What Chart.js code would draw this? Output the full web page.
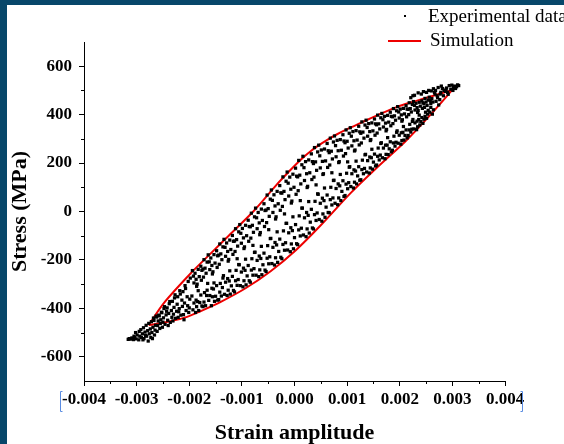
<!DOCTYPE html>
<html>
<head>
<meta charset="utf-8">
<script src="https://cdn.jsdelivr.net/npm/chart.js@4.4.1/dist/chart.umd.min.js"></script>
<style>
  html, body { margin: 0; padding: 0; background: #07476a; }
  .frame {
    position: absolute; left: 0; top: 0;
    width: 557px; height: 439px;
    border-left: 7px solid #07476a; border-top: 5px solid #07476a;
    background: #fff;
  }
  canvas { display: block; }
</style>
</head>
<body>
<div class="frame"><canvas id="loop" width="557" height="439"></canvas></div>
<script>
// hysteresis loop: strain in units of 1e-3, stress in MPa

const xTickValues = [-0.004, -0.003, -0.002, -0.001, 0, 0.001, 0.002, 0.003, 0.004];
const xMinorValues = [-0.0035, -0.0025, -0.0015, -0.0005, 0.0005, 0.0015, 0.0025, 0.0035];
const yTickValues = [-600, -400, -200, 0, 200, 400, 600];
const yMinorValues = [-500, -300, -100, 100, 300, 500];

const expStrain = [
  -3.16, -3.14, -3.11, -3.09, -3.06, -3.04, -3.05,
  -3.01, -2.99, -3.02, -2.96, -2.94, -2.95,
  -2.91, -2.89, -2.92, -2.88, -2.86, -2.84, -2.87, -2.83,
  -2.81, -2.79, -2.82, -2.78, -2.76, -2.74, -2.77, -2.73,
  -2.71, -2.69, -2.72, -2.68, -2.70, -2.66, -2.64, -2.67, -2.63, -2.65,
  -2.61, -2.59, -2.62, -2.58, -2.60, -2.56, -2.54, -2.57, -2.53, -2.55,
  -2.51, -2.49, -2.52, -2.48, -2.50, -2.46, -2.44, -2.47, -2.43,
  -2.41, -2.39, -2.42, -2.38, -2.40, -2.36, -2.34, -2.37, -2.33,
  -2.31, -2.29, -2.32, -2.28, -2.30, -2.26, -2.24, -2.27, -2.23,
  -2.21, -2.19, -2.22, -2.18, -2.20, -2.16, -2.14, -2.17, -2.13,
  -2.11, -2.09, -2.12, -2.08, -2.10, -2.06, -2.04, -2.07, -2.03,
  -2.01, -1.99, -2.02, -1.98, -2.00,
  -1.94, -1.89, -1.92, -1.87, -1.91, -1.86, -1.88, -1.93, -1.86, -1.91, -1.87, -1.95,
  -1.78, -1.83, -1.76, -1.81, -1.77, -1.85, -1.82, -1.76, -1.80, -1.84, -1.78, -1.83,
  -1.72, -1.66, -1.70, -1.74, -1.68, -1.73, -1.74, -1.69, -1.72, -1.67, -1.71, -1.66,
  -1.64, -1.59, -1.62, -1.57, -1.61, -1.56, -1.58, -1.63, -1.56, -1.61, -1.57, -1.65,
  -1.48, -1.53, -1.46, -1.51, -1.47, -1.55, -1.52, -1.46, -1.50, -1.54, -1.48, -1.53,
  -1.42, -1.36, -1.40, -1.44, -1.38, -1.43, -1.44, -1.39, -1.42, -1.37, -1.41, -1.36,
  -1.34, -1.29, -1.32, -1.27, -1.31, -1.26, -1.28, -1.33, -1.26, -1.31, -1.27, -1.35,
  -1.18, -1.23, -1.16, -1.21, -1.17, -1.25, -1.22, -1.16, -1.20, -1.24, -1.18, -1.23,
  -1.12, -1.06, -1.10, -1.14, -1.08, -1.13, -1.14, -1.09, -1.12, -1.07, -1.11, -1.06, -1.09,
  -1.04, -0.99, -1.02, -0.97, -1.01, -0.96, -0.98, -1.03, -0.96, -1.01, -0.97, -1.05,
  -0.88, -0.93, -0.86, -0.91, -0.87, -0.95, -0.92, -0.86, -0.90, -0.94, -0.88, -0.93,
  -0.82, -0.76, -0.80, -0.84, -0.78, -0.83, -0.84, -0.79, -0.82, -0.77, -0.81, -0.76, -0.79,
  -0.74, -0.69, -0.72, -0.67, -0.71, -0.66, -0.68, -0.73, -0.66, -0.71, -0.67, -0.75,
  -0.58, -0.63, -0.56, -0.61, -0.57, -0.65, -0.62, -0.56, -0.60, -0.64, -0.58, -0.63,
  -0.52, -0.46, -0.50, -0.54, -0.48, -0.53, -0.54, -0.49, -0.52, -0.47, -0.51, -0.46, -0.49,
  -0.44, -0.39, -0.42, -0.37, -0.41, -0.36, -0.38, -0.43, -0.36, -0.41, -0.37, -0.45,
  -0.28, -0.33, -0.26, -0.31, -0.27, -0.35, -0.32, -0.26, -0.30, -0.34, -0.28, -0.33,
  -0.22, -0.16, -0.20, -0.24, -0.18, -0.23, -0.24, -0.19, -0.22, -0.17, -0.21, -0.16, -0.19,
  -0.14, -0.09, -0.12, -0.07, -0.11, -0.06, -0.08, -0.13, -0.06, -0.11, -0.07, -0.15,
  0.02, -0.03, 0.04, -0.01, 0.03, -0.05, -0.02, 0.04, 0.00, -0.04, 0.02, -0.03,
  0.08, 0.14, 0.10, 0.06, 0.12, 0.07, 0.06, 0.11, 0.08, 0.13, 0.09, 0.14, 0.11,
  0.16, 0.21, 0.18, 0.23, 0.19, 0.24, 0.22, 0.17, 0.24, 0.19, 0.23, 0.15,
  0.32, 0.27, 0.34, 0.29, 0.33, 0.25, 0.28, 0.34, 0.30, 0.26, 0.32, 0.27,
  0.38, 0.44, 0.40, 0.36, 0.42, 0.37, 0.36, 0.41, 0.38, 0.43, 0.39, 0.44, 0.41,
  0.46, 0.51, 0.48, 0.53, 0.49, 0.54, 0.52, 0.47, 0.54, 0.49, 0.53, 0.45,
  0.62, 0.57, 0.64, 0.59, 0.63, 0.55, 0.58, 0.64, 0.60, 0.56, 0.62, 0.57,
  0.68, 0.74, 0.70, 0.66, 0.72, 0.67, 0.66, 0.71, 0.68, 0.73, 0.69, 0.74, 0.71,
  0.76, 0.81, 0.78, 0.83, 0.79, 0.84, 0.82, 0.77, 0.84, 0.79, 0.83, 0.75,
  0.92, 0.87, 0.94, 0.89, 0.93, 0.85, 0.88, 0.94, 0.90, 0.86, 0.92, 0.87,
  0.98, 1.04, 1.00, 0.96, 1.02, 0.97, 0.96, 1.01, 0.98, 1.03, 0.99, 1.04, 1.01,
  1.06, 1.11, 1.08, 1.13, 1.09, 1.14, 1.12, 1.07, 1.14, 1.09, 1.13, 1.05,
  1.22, 1.17, 1.24, 1.19, 1.23, 1.15, 1.18, 1.24, 1.20, 1.16, 1.22, 1.17,
  1.28, 1.34, 1.30, 1.26, 1.32, 1.27, 1.26, 1.31, 1.28, 1.33, 1.29, 1.34,
  1.36, 1.41, 1.38, 1.43, 1.39, 1.44, 1.42, 1.37, 1.44, 1.39, 1.43, 1.35,
  1.52, 1.47, 1.54, 1.49, 1.53, 1.45, 1.48, 1.54, 1.50, 1.46, 1.52, 1.47,
  1.58, 1.64, 1.60, 1.56, 1.62, 1.57, 1.56, 1.61, 1.58, 1.63, 1.59, 1.64,
  1.66, 1.71, 1.68, 1.73, 1.69, 1.74, 1.72, 1.67, 1.74, 1.69, 1.73, 1.65,
  1.82, 1.77, 1.84, 1.79, 1.83, 1.75, 1.78, 1.84, 1.80, 1.76, 1.82, 1.77,
  1.88, 1.94, 1.90, 1.86, 1.92, 1.87, 1.86, 1.91, 1.88, 1.93, 1.89, 1.94,
  1.96, 2.01, 1.98, 2.03, 1.99, 2.04, 2.02, 1.97, 2.04, 1.99, 2.03, 1.95,
  2.12, 2.07, 2.14, 2.09, 2.13, 2.05, 2.08, 2.14, 2.10, 2.06, 2.12, 2.07,
  2.18, 2.24, 2.20, 2.16, 2.22, 2.17, 2.16, 2.21, 2.18, 2.23, 2.19, 2.24, 2.21, 2.25,
  2.26, 2.31, 2.28, 2.33, 2.29, 2.34, 2.32, 2.27, 2.34, 2.29, 2.33, 2.25, 2.28, 2.35,
  2.42, 2.37, 2.44, 2.39, 2.43, 2.35, 2.38, 2.44, 2.40, 2.36, 2.42, 2.37, 2.41, 2.45,
  2.48, 2.54, 2.50, 2.46, 2.52, 2.47, 2.46, 2.51, 2.48, 2.53, 2.49, 2.54, 2.51, 2.55,
  2.56, 2.61, 2.58, 2.63, 2.59, 2.62, 2.57, 2.64, 2.59, 2.60, 2.64,
  2.67, 2.72, 2.69, 2.74, 2.68, 2.73, 2.71, 2.66,
  2.78, 2.83, 2.76, 2.81, 2.79, 2.84, 2.77,
  2.87, 2.92, 2.89, 2.94, 2.88, 2.91,
  2.97, 3.02, 2.99, 3.04, 3.06, 3.01,
  3.08, 3.10, 3.12
];

const expStress = [
  -528, -525, -527, -522, -529, -520, -515,
  -526, -510, -500, -530, -515, -495,
  -520, -505, -488, -530, -525, -498, -480, -512,
  -515, -492, -470, -535, -505, -485, -462, -520,
  -500, -478, -455, -440, -525, -510, -470, -450, -432, -490,
  -495, -452, -436, -428, -471, -483, -447, -431, -416, -462,
  -478, -439, -418, -401, -457, -466, -427, -393, -412,
  -449, -421, -398, -381, -471, -458, -409, -372, -437,
  -452, -396, -371, -357, -424, -441, -412, -344, -383,
  -437, -401, -352, -327, -414, -428, -366, -341, -392,
  -426, -378, -331, -306, -447, -409, -352, -318, -389,
  -417, -362, -289, -275, -398,
  -244, -255, -267, -280, -295, -309, -417, -406, -393, -378, -366, -349,
  -226, -239, -243, -269, -284, -300, -409, -390, -376, -372, -345, -327,
  -199, -209, -234, -238, -255, -271, -393, -389, -374, -347, -335, -325,
  -179, -192, -208, -223, -240, -258, -389, -367, -352, -347, -317, -297,
  -162, -178, -183, -213, -231, -249, -371, -366, -350, -320, -306, -295,
  -134, -146, -175, -180, -199, -218, -364, -349, -333, -314, -297, -275,
  -115, -130, -148, -165, -185, -205, -347, -342, -325, -292, -277, -265,
  -99, -118, -123, -157, -177, -198, -341, -326, -307, -287, -268, -245,
  -71, -84, -116, -122, -143, -165, -332, -305, -286, -281, -243, -219, -195,
  -54, -70, -90, -109, -131, -153, -311, -306, -286, -250, -234, -220,
  -36, -57, -62, -100, -123, -146, -303, -286, -266, -243, -223, -197,
  -7, -22, -57, -63, -86, -110, -292, -263, -242, -236, -195, -169, -140,
  14, -4, -26, -47, -71, -96, -269, -263, -241, -202, -184, -168,
  32, 10, 4, -37, -62, -87, -261, -242, -220, -194, -172, -144,
  68, 51, 12, 6, -20, -46, -248, -216, -193, -187, -141, -112, -75,
  89, 69, 46, 23, -4, -31, -221, -215, -191, -148, -128, -111,
  107, 83, 77, 32, 5, -22, -210, -189, -165, -138, -114, -84,
  143, 125, 83, 76, 49, 21, -195, -160, -136, -129, -80, -49, -10,
  163, 142, 117, 92, 64, 35, -166, -159, -134, -88, -67, -49,
  179, 154, 146, 100, 71, 43, -154, -133, -108, -79, -54, -22,
  211, 193, 150, 143, 114, 86, -137, -101, -76, -69, -18, 14, 45,
  228, 206, 181, 156, 128, 99, -104, -97, -72, -26, -4, 14,
  238, 213, 206, 160, 132, 104, -89, -68, -44, -16, 9, 41,
  264, 246, 205, 198, 170, 142, -72, -37, -13, -6, 42, 73, 110,
  274, 254, 230, 207, 180, 153, -40, -33, -10, 34, 55, 71,
  281, 258, 251, 209, 182, 156, -24, -4, 18, 45, 68, 97,
  303, 287, 249, 243, 217, 192, -5, 27, 49, 56, 100, 128, 160,
  312, 294, 272, 251, 226, 202, 28, 34, 56, 95, 114, 129,
  317, 297, 291, 253, 229, 206, 45, 62, 83, 106, 127, 153,
  337, 323, 290, 284, 262, 239, 66, 94, 113, 119, 158, 183, 205,
  346, 330, 311, 292, 271, 250, 97, 103, 121, 156, 172, 185,
  352, 334, 329, 295, 275, 254, 114, 129, 147, 167, 185, 208,
  370, 357, 328, 323, 303, 283, 131, 156, 173, 178, 212, 234,
  377, 363, 347, 330, 311, 293, 159, 163, 180, 210, 225, 236,
  382, 366, 362, 333, 315, 297, 175, 188, 204, 222, 237, 257,
  398, 387, 362, 358, 341, 324, 192, 213, 228, 233, 262, 281,
  405, 393, 379, 365, 349, 333, 218, 222, 236, 262, 274, 284,
  410, 397, 393, 369, 354, 339, 235, 246, 259, 274, 288, 305,
  425, 416, 395, 391, 377, 363, 253, 270, 283, 286, 311, 327,
  433, 423, 411, 399, 386, 373, 278, 282, 293, 315, 325, 333,
  437, 426, 423, 403, 391, 379, 295, 304, 314, 327, 337, 351,
  449, 442, 425, 422, 411, 400, 314, 328, 337, 340, 360, 372, 470, 478,
  454, 447, 438, 429, 419, 409, 338, 341, 350, 366, 373, 380, 480, 490,
  457, 451, 449, 435, 426, 417, 357, 364, 371, 380, 388, 398, 485, 495,
  467, 460, 452, 445, 438, 430, 381, 385, 393, 402, 410, 418, 492, 500,
  472, 466, 458, 452, 446, 402, 410, 420, 430, 498, 507,
  485, 470, 455, 440, 500, 512, 478, 492,
  492, 478, 462, 508, 518, 500, 485,
  496, 484, 510, 520, 505, 492,
  505, 512, 522, 518, 508, 500,
  515, 523, 520
];

// simulated loop, loading branch then unloading branch
const simUpStrain = [-2.77, -2.49, -1.98, -1.60, -1.25, -0.77, -0.33, -0.10, 0.05, 0.18, 0.30, 0.43, 0.60, 0.80, 1.00, 1.26, 1.60, 1.95, 2.30, 2.59, 3.00];
const simUpStress = [-469, -380, -257, -175, -100, 3, 113, 166, 199, 226, 248, 269, 293, 318, 340, 366, 400, 432, 456, 475, 502];
const simDownStrain = [3.00, 2.59, 2.11, 1.60, 1.07, 0.49, 0.02, -0.46, -0.93, -1.41, -1.79, -2.04, -2.36, -2.77];
const simDownStress = [502, 401, 290, 188, 77, -59, -161, -248, -317, -374, -412, -435, -453, -469];

const toPoints = (xs, ys) => xs.map((s, i) => ({ x: s / 1000, y: ys[i] }));

const tickFont = { family: 'Liberation Serif', size: 17, weight: 'bold' };
const titleFont = { family: 'Liberation Serif', size: 22, weight: 'bold', lineHeight: 1 };
const red = 'rgb(238, 0, 0)';

const extras = {
  id: 'extras',
  afterDraw(chart) {
    const ctx = chart.ctx;
    const xs = chart.scales.x, ys = chart.scales.y;
    const area = chart.chartArea;
    ctx.save();
    ctx.strokeStyle = '#000';
    ctx.lineWidth = 1;
    ctx.beginPath();
    xMinorValues.forEach(v => {
      const px = Math.round(xs.getPixelForValue(v)) + 0.5;
      ctx.moveTo(px, area.bottom);
      ctx.lineTo(px, area.bottom + 3);
    });
    yMinorValues.forEach(v => {
      const py = Math.round(ys.getPixelForValue(v)) + 0.5;
      ctx.moveTo(area.left, py);
      ctx.lineTo(area.left - 3, py);
    });
    ctx.stroke();

    // selection brackets round the strain labels
    ctx.strokeStyle = 'rgb(90, 140, 225)';
    ctx.beginPath();
    ctx.moveTo(55.5, 386.5); ctx.lineTo(53.5, 386.5); ctx.lineTo(53.5, 406.5); ctx.lineTo(55.5, 406.5);
    ctx.moveTo(513.5, 386.5); ctx.lineTo(515.5, 386.5); ctx.lineTo(515.5, 406.5); ctx.lineTo(513.5, 406.5);
    ctx.stroke();

    // legend
    const sets = chart.data.datasets;
    ctx.fillStyle = '#000';
    ctx.fillRect(397, 10, 2, 2);
    ctx.strokeStyle = red;
    ctx.lineWidth = 2;
    ctx.beginPath();
    ctx.moveTo(381, 36);
    ctx.lineTo(414, 36);
    ctx.stroke();
    ctx.font = '19px "Liberation Serif"';
    ctx.textBaseline = 'middle';
    ctx.fillText(sets[0].label, 421, 12);
    ctx.fillText(sets[1].label, 423, 36);
    ctx.restore();
  }
};

const simLine = {
  showLine: true,
  tension: 0.3,
  pointRadius: 0,
  borderColor: red,
  borderWidth: 2
};

new Chart(document.getElementById('loop'), {
  type: 'scatter',
  data: {
    datasets: [
      {
        label: 'Experimental data',
        data: toPoints(expStrain, expStress),
        pointStyle: 'rect',
        pointRadius: 2.3,
        borderWidth: 0,
        backgroundColor: '#000'
      },
      { label: 'Simulation', data: toPoints(simUpStrain, simUpStress), ...simLine },
      { label: 'Simulation', data: toPoints(simDownStrain, simDownStress), ...simLine }
    ]
  },
  options: {
    responsive: false,
    animation: false,
    layout: { padding: { left: 0, top: 37, right: 59, bottom: 0 } },
    plugins: { legend: { display: false }, tooltip: { enabled: false } },
    scales: {
      x: {
        type: 'linear',
        min: -0.004,
        max: 0.004,
        afterBuildTicks: s => { s.ticks = xTickValues.map(v => ({ value: v })); },
        afterFit: s => { s.height = 63; },
        ticks: {
          callback: v => v.toFixed(3),
          font: tickFont,
          color: '#000',
          padding: 3,
          maxRotation: 0,
          autoSkip: false
        },
        grid: { drawOnChartArea: false, tickLength: 5, color: '#000' },
        border: { color: '#000', width: 1 },
        title: { display: true, text: 'Strain amplitude', font: titleFont, color: '#000', padding: 0 }
      },
      y: {
        type: 'linear',
        min: -700,
        max: 700,
        afterBuildTicks: s => { s.ticks = yTickValues.map(v => ({ value: v })); },
        afterFit: s => { s.width = 77; },
        ticks: {
          font: tickFont,
          color: '#000',
          padding: 7
        },
        grid: { drawOnChartArea: false, tickLength: 5, color: '#000' },
        border: { color: '#000', width: 1 },
        title: { display: true, text: 'Stress (MPa)', font: titleFont, color: '#000', padding: { top: 2, bottom: 0 } }
      }
    }
  },
  plugins: [extras]
});
</script>
</body>
</html>
